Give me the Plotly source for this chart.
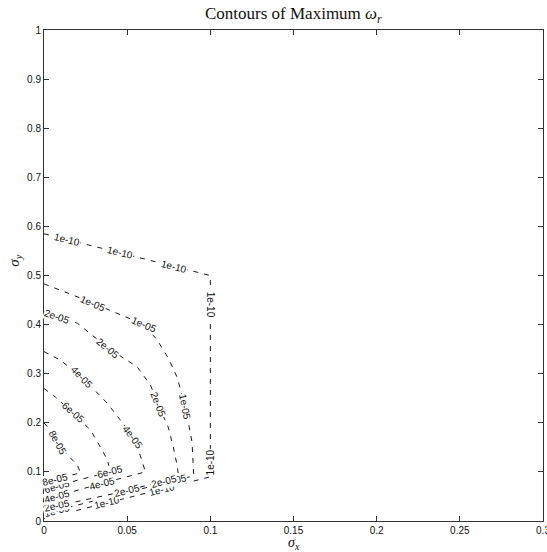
import math
import plotly.graph_objects as go

# ---------------- data ----------------
x_ticks = [0, 0.05, 0.1, 0.15, 0.2, 0.25, 0.3]
x_tick_labels = ["0", "0.05", "0.1", "0.15", "0.2", "0.25", "0.3"]
y_ticks = [0, 0.1, 0.2, 0.3, 0.4, 0.5, 0.6, 0.7, 0.8, 0.9, 1.0]
y_tick_labels = ["0", "0.1", "0.2", "0.3", "0.4", "0.5", "0.6", "0.7", "0.8", "0.9", "1"]

levels = ["1e-10", "1e-05", "2e-05", "4e-05", "6e-05", "8e-05"]

c_1e10_x = [0.0, 0.05, 0.1, 0.1, 0.1, 0.05, 0.0]
c_1e10_y = [0.585, 0.543, 0.5, 0.3, 0.09, 0.047, 0.005]

c_1e05_x = [0.0, 0.025, 0.046, 0.06, 0.068, 0.075, 0.08, 0.085, 0.089, 0.09, 0.045, 0.0]
c_1e05_y = [0.483, 0.45, 0.42, 0.40, 0.369, 0.33, 0.293, 0.232, 0.161, 0.092, 0.054, 0.015]

c_2e05_x = [0.0, 0.02, 0.0386, 0.056, 0.064, 0.0687, 0.0747, 0.0777, 0.080, 0.081, 0.045, 0.0]
c_2e05_y = [0.426, 0.403, 0.352, 0.314, 0.277, 0.236, 0.191, 0.151, 0.114, 0.089, 0.058, 0.025]

c_4e05_x = [0.0, 0.0096, 0.0229, 0.038, 0.0458, 0.0536, 0.0578, 0.061, 0.035, 0.0]
c_4e05_y = [0.345, 0.328, 0.293, 0.240, 0.206, 0.171, 0.134, 0.1, 0.077, 0.043]

c_6e05_x = [0.0, 0.007, 0.0175, 0.028, 0.034, 0.038, 0.04, 0.02, 0.0]
c_6e05_y = [0.27, 0.252, 0.22, 0.185, 0.15, 0.125, 0.1, 0.083, 0.063]

c_8e05_x = [0.0, 0.005, 0.0085, 0.014, 0.02, 0.022, 0.01, 0.0]
c_8e05_y = [0.2, 0.18, 0.159, 0.135, 0.114, 0.098, 0.088, 0.08]

contour_x = [c_1e10_x, c_1e05_x, c_2e05_x, c_4e05_x, c_6e05_x, c_8e05_x]
contour_y = [c_1e10_y, c_1e05_y, c_2e05_y, c_4e05_y, c_6e05_y, c_8e05_y]

# label hints: (contour index, approx x, approx y, flip)
label_hints = [
    (0, 0.014, 0.578, False), (0, 0.046, 0.547, False), (0, 0.078, 0.518, False),
    (0, 0.1, 0.44, False), (0, 0.1, 0.12, True),
    (0, 0.071, 0.065, False), (0, 0.038, 0.037, False),
    (1, 0.0295, 0.445, False), (1, 0.06, 0.40, False), (1, 0.0852, 0.232, False),
    (1, 0.078, 0.082, False), (1, 0.008, 0.02, False),
    (2, 0.008, 0.421, False), (2, 0.0386, 0.352, False), (2, 0.068, 0.236, False),
    (2, 0.072, 0.08, False), (2, 0.05, 0.062, False), (2, 0.008, 0.03, False),
    (3, 0.023, 0.293, False), (3, 0.0536, 0.171, False), (3, 0.035, 0.077, False),
    (3, 0.008, 0.046, False),
    (4, 0.0175, 0.22, False), (4, 0.04, 0.098, False), (4, 0.008, 0.066, False),
    (5, 0.008, 0.16, False), (5, 0.007, 0.082, False),
]

# ---------------- layout geometry ----------------
W, H = 547, 552
ML, MR, MT, MB = 44, 4, 30, 31
PW, PH = W - ML - MR, H - MT - MB
XR, YR = [0, 0.3], [0, 1]
sx = PW / (XR[1] - XR[0])
sy = PH / (YR[1] - YR[0])

fig = go.Figure()
for xs, ys in zip(contour_x, contour_y):
    fig.add_trace(go.Scatter(x=xs, y=ys, mode="lines",
                             line=dict(color="#1a1a1a", width=1, dash="5px,6px"),
                             hoverinfo="skip", showlegend=False))


def project(xs, ys, px, py):
    best = None
    for i in range(len(xs) - 1):
        ax, ay = xs[i] * sx, ys[i] * sy
        bx, by = xs[i + 1] * sx, ys[i + 1] * sy
        qx, qy = px * sx, py * sy
        dx, dy = bx - ax, by - ay
        L2 = dx * dx + dy * dy
        t = 0 if L2 == 0 else max(0, min(1, ((qx - ax) * dx + (qy - ay) * dy) / L2))
        cx, cy = ax + t * dx, ay + t * dy
        d = (cx - qx) ** 2 + (cy - qy) ** 2
        if best is None or d < best[0]:
            best = (d, cx / sx, cy / sy, dx, dy)
    _, cx, cy, dx, dy = best
    ang = -math.degrees(math.atan2(dy, dx))
    while ang > 90:
        ang -= 180
    while ang <= -90:
        ang += 180
    return cx, cy, ang


for ci, hx, hy, flip in label_hints:
    cx, cy, ang = project(contour_x[ci], contour_y[ci], hx, hy)
    if flip:
        ang = -ang
    fig.add_annotation(x=cx, y=cy, text=levels[ci], showarrow=False,
                       textangle=ang, xanchor="center", yanchor="middle",
                       bgcolor="white", borderpad=0,
                       font=dict(family="Liberation Sans, Arial", size=10, color="#111"))

axis_common = dict(showgrid=False, zeroline=False, showline=True, mirror="ticks",
                   linecolor="#333", linewidth=1, ticks="inside", ticklen=5,
                   tickcolor="#333", ticklabeloverflow="allow",
                   tickfont=dict(family="Liberation Sans, Arial", size=10, color="#111"))

fig.update_layout(
    width=W, height=H,
    margin=dict(l=ML, r=MR, t=MT, b=MB, autoexpand=False),
    paper_bgcolor="white", plot_bgcolor="white",
    xaxis=dict(range=XR, tickvals=x_ticks, ticktext=x_tick_labels, **axis_common),
    yaxis=dict(range=YR, tickvals=y_ticks, ticktext=y_tick_labels, **axis_common),
)

fig.add_annotation(xref="paper", yref="paper", x=0.5, y=1, yshift=2,
                   text="Contours of Maximum <i>ω<sub>r</sub></i>", showarrow=False,
                   xanchor="center", yanchor="bottom",
                   font=dict(family="Liberation Serif, Times New Roman", size=17, color="#111"))
fig.add_annotation(xref="paper", yref="paper", x=0.5, y=0, yshift=-12,
                   text="<i>σ<sub>x</sub></i>", showarrow=False,
                   xanchor="center", yanchor="top",
                   font=dict(family="Liberation Serif, Times New Roman", size=14, color="#111"))
fig.add_annotation(xref="paper", yref="paper", x=0, y=0.53, xshift=-18,
                   text="<i>σ<sub>y</sub></i>", showarrow=False, textangle=-90,
                   xanchor="right", yanchor="middle",
                   font=dict(family="Liberation Serif, Times New Roman", size=15, color="#111"))

fig.write_html("out.html")
